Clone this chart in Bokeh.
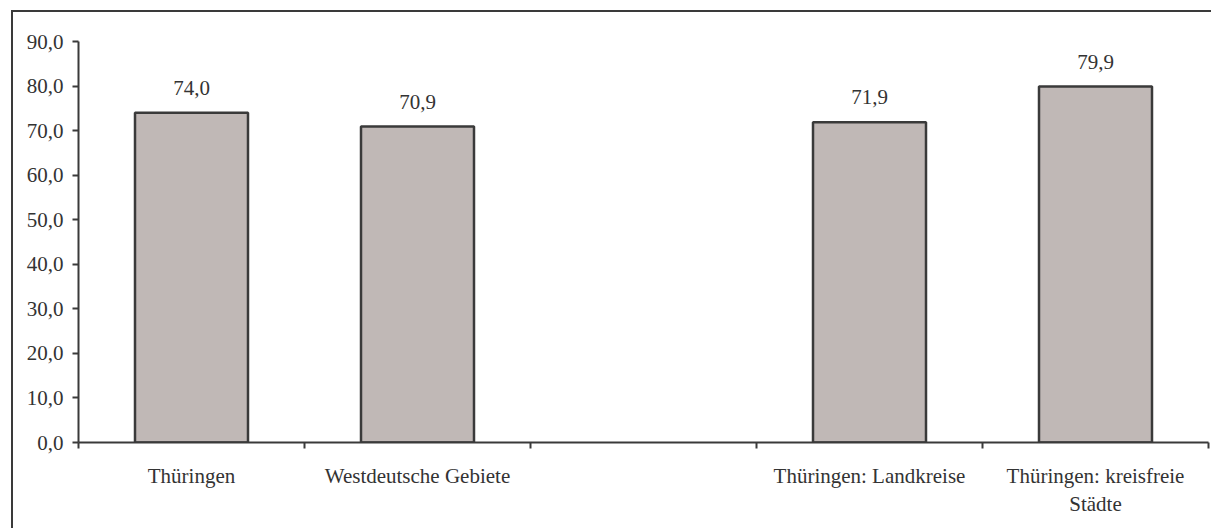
from bokeh.plotting import figure
from bokeh.models import FixedTicker, Range1d, ColumnDataSource, Label
from bokeh.core.properties import value
from bokeh.embed import file_html
from bokeh.resources import INLINE

# ---- data ----
categories = ["Thüringen", "Westdeutsche Gebiete", "", "Thüringen: Landkreise",
              "Thüringen: kreisfreie\nStädte"]
values = [74.0, 70.9, None, 71.9, 79.9]
value_labels = ["74,0", "70,9", "", "71,9", "79,9"]
y_ticks = [0, 10, 20, 30, 40, 50, 60, 70, 80, 90]
y_tick_labels = ["0,0", "10,0", "20,0", "30,0", "40,0", "50,0", "60,0", "70,0", "80,0", "90,0"]
unit_label = "(in %)"

FONT = "Liberation Serif"
TXT = "#333333"
LINE = "#3a3a3a"
BAR = "#c0b8b6"

n = len(categories)
xs, ys, labs = [], [], []
for i, (v, l) in enumerate(zip(values, value_labels)):
    if v is not None:
        xs.append(i + 0.5)
        ys.append(v)
        labs.append(l)
src = ColumnDataSource(dict(x=xs, y=ys, label=labs))

p = figure(width=1211, height=528, output_backend="svg", toolbar_location=None,
           x_range=Range1d(0, n), y_range=Range1d(0, 90),
           min_border_left=78, min_border_right=3, min_border_top=41, min_border_bottom=86)
p.outline_line_color = None
p.grid.grid_line_color = None
p.background_fill_color = "white"
p.border_fill_alpha = 0
# outer frame: only its left and top edges fall inside the picture
p.styles = {
    "background-color": "white",
    "background-image": f"linear-gradient({LINE}, {LINE}), linear-gradient({LINE}, {LINE})",
    "background-size": "2px 100%, 100% 2px",
    "background-position": "11px 10px, 11px 10px",
    "background-repeat": "no-repeat",
}

p.vbar(x="x", top="y", bottom=0, width=0.5, source=src,
       fill_color=BAR, line_color=LINE, line_width=2.5)

p.text(x="x", y="y", text="label", source=src, y_offset=-25,
       text_align="center", text_baseline="alphabetic",
       text_font=value(FONT), text_font_size="21px", text_color=TXT)

# y axis
ya = p.yaxis[0]
ya.ticker = FixedTicker(ticks=y_ticks)
ya.major_label_overrides = {t: l for t, l in zip(y_ticks, y_tick_labels)}
ya.major_tick_out = 6
ya.major_tick_in = 0
ya.minor_tick_out = 0
ya.minor_tick_in = 0
ya.axis_line_color = LINE
ya.axis_line_width = 2
ya.major_tick_line_color = LINE
ya.major_tick_line_width = 2
ya.major_label_standoff = 9
ya.major_label_text_font = FONT
ya.major_label_text_font_size = "21px"
ya.major_label_text_color = TXT

# x axis: labels at slot centres, tick marks at slot boundaries
xa = p.xaxis[0]
centers = [i + 0.5 for i in range(n)]
xa.ticker = FixedTicker(ticks=centers, minor_ticks=list(range(n + 1)))
xa.major_label_overrides = {c: lab for c, lab in zip(centers, categories)}
xa.major_tick_out = 0
xa.major_tick_in = 0
xa.minor_tick_out = 6
xa.minor_tick_in = 0
xa.minor_tick_line_color = LINE
xa.minor_tick_line_width = 2
xa.axis_line_color = LINE
xa.axis_line_width = 2
xa.major_label_standoff = 15
xa.major_label_text_font = FONT
xa.major_label_text_font_size = "21px"
xa.major_label_text_color = TXT

p.add_layout(Label(x=12, y=11, x_units="canvas", y_units="canvas", text=unit_label,
                   text_font=FONT, text_font_size="30px", text_color=TXT,
                   text_baseline="bottom", text_align="left"))

open("out.html", "w").write(file_html(p, INLINE))
